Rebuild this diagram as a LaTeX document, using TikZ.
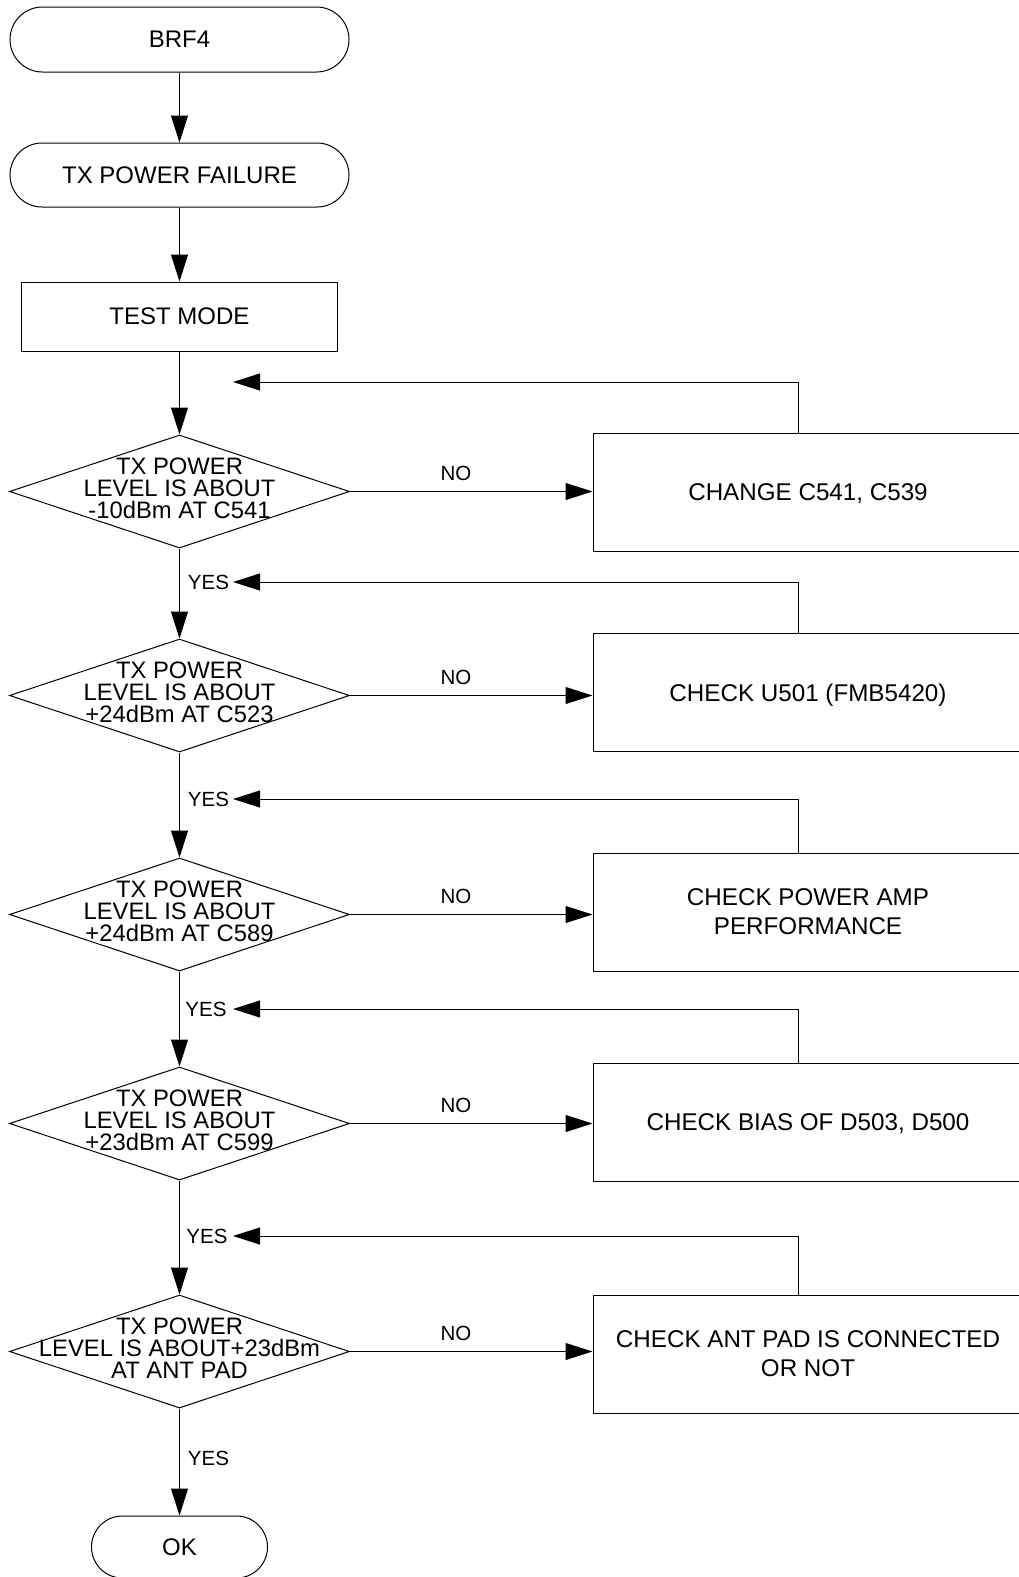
\documentclass[tikz,border=0pt]{standalone}
\usepackage{fontspec}
\setmainfont{Liberation Sans}
\usetikzlibrary{arrows.meta,shapes.geometric,shapes.misc}
\begin{document}
\begin{tikzpicture}[x=1pt,y=-1pt,
  line width=1pt,
  term/.style={draw, rounded rectangle, minimum width=339pt, minimum height=65pt, inner sep=0pt, text depth=0pt, font=\fontsize{24}{29}\selectfont},
  proc/.style={draw, rectangle, minimum width=316pt, minimum height=69pt, inner sep=0pt, text depth=0pt, font=\fontsize{24}{29}\selectfont},
  dec/.style={draw, diamond, minimum width=340pt, minimum height=113pt, inner sep=0pt},
  dtext/.style={inner sep=0pt, align=center, text depth=0pt, font=\fontsize{23.8}{21.7}\selectfont},
  act/.style={draw, rectangle, minimum width=430pt, minimum height=118pt, inner sep=0pt, align=center, text depth=0pt, font=\fontsize{24.2}{29}\selectfont},
  lbl/.style={inner sep=0pt, anchor=base, font=\fontsize{20.5}{24}\selectfont},
  arr/.style={-{Triangle[length=27pt,width=17pt]}}
]
\useasboundingbox (0,0) rectangle (1019,1577);
\clip (0,0) rectangle (1019,1577);

% left column
\node[term] (brf) at (179.5,39.5) {BRF4};
\node[term, minimum height=64pt] (txf) at (179.5,175) {TX POWER FAILURE};
\node[proc] (tm) at (179.5,316.5) {TEST MODE};

\node[dec] (d1) at (179.5,491.5) {};
\node[dtext] (d1t) at (179.5,488) {TX POWER\\LEVEL IS ABOUT\\-10dBm AT C541};
\node[dec] (d2) at (179.5,695.5) {};
\node[dtext] (d2t) at (179.5,692) {TX POWER\\LEVEL IS ABOUT\\+24dBm AT C523};
\node[dec] (d3) at (179.5,914.5) {};
\node[dtext] (d3t) at (179.5,911) {TX POWER\\LEVEL IS ABOUT\\+24dBm AT C589};
\node[dec] (d4) at (179.5,1123.5) {};
\node[dtext] (d4t) at (179.5,1120) {TX POWER\\LEVEL IS ABOUT\\+23dBm AT C599};
\node[dec] (d5) at (179.5,1351.5) {};
\node[dtext] (d5t) at (179.5,1348) {TX POWER\\LEVEL IS ABOUT+23dBm\\AT ANT PAD};

\node[term, minimum width=176pt, minimum height=62pt] (ok) at (179.5,1547) {OK};

% right column
\node[act] (b1) at (808,492) {CHANGE C541, C539};
\node[act] (b2) at (808,692.5) {CHECK U501 (FMB5420)};
\node[act] (b3) at (808,912) {CHECK POWER AMP\\PERFORMANCE};
\node[act] (b4) at (808,1122) {CHECK BIAS OF D503, D500};
\node[act] (b5) at (808,1354) {CHECK ANT PAD IS CONNECTED\\OR NOT};

% feedback coordinates
\coordinate (fx) at (798,0);
\coordinate (t1) at (233,382);
\coordinate (t2) at (233,582);
\coordinate (t3) at (233,799);
\coordinate (t4) at (233,1009);
\coordinate (t5) at (233,1236);

% main flow
\draw[arr] (brf.south) -- (txf.north);
\draw[arr] (txf.south) -- (tm.north);
\draw[arr] (tm.south) -- (d1.north);
\draw[arr] (d1.south) -- (d2.north);
\draw[arr] (d2.south) -- (d3.north);
\draw[arr] (d3.south) -- (d4.north);
\draw[arr] (d4.south) -- (d5.north);
\draw[arr] (d5.south) -- (ok.north);

% NO branches
\draw[arr] (d1.east) -- (d1.east -| b1.west);
\draw[arr] (d2.east) -- (d2.east -| b2.west);
\draw[arr] (d3.east) -- (d3.east -| b3.west);
\draw[arr] (d4.east) -- (d4.east -| b4.west);
\draw[arr] (d5.east) -- (d5.east -| b5.west);

% feedback
\draw[arr] (fx |- b1.north) |- (t1);
\draw[arr] (fx |- b2.north) |- (t2);
\draw[arr] (fx |- b3.north) |- (t3);
\draw[arr] (fx |- b4.north) |- (t4);
\draw[arr] (fx |- b5.north) |- (t5);

% labels
\node[lbl] (no1) at (456,480.5) {NO};
\node[lbl] (no2) at (456,684.5) {NO};
\node[lbl] (no3) at (456,903.5) {NO};
\node[lbl] (no4) at (456,1112.5) {NO};
\node[lbl] (no5) at (456,1340.5) {NO};
\node[lbl] (yes1) at (208.5,589.5) {YES};
\node[lbl] (yes2) at (208.5,806.5) {YES};
\node[lbl] (yes3) at (206,1016.5) {YES};
\node[lbl] (yes4) at (207,1243.5) {YES};
\node[lbl] (yes5) at (208.5,1465.5) {YES};
\end{tikzpicture}
\end{document}
